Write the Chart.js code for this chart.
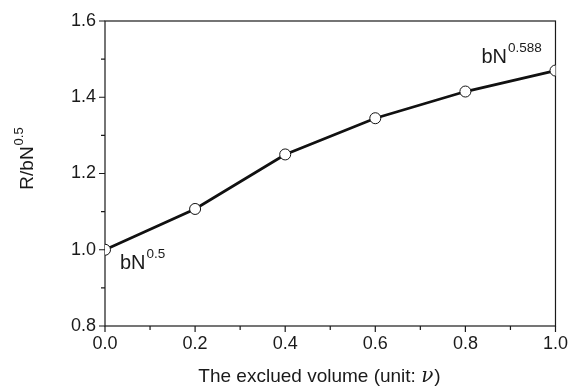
<!DOCTYPE html>
<html>
<head>
<meta charset="utf-8">
<script src="https://cdn.jsdelivr.net/npm/chart.js@4/dist/chart.umd.min.js"></script>
<style>
  html, body { margin: 0; padding: 0; background: #fff; }
  #wrap { width: 575px; height: 388px; position: relative; }
</style>
</head>
<body>
<div id="wrap"><canvas id="myChart"></canvas></div>
<script>
// data
const volumes = [0.0, 0.2, 0.4, 0.6, 0.8, 1.0];
const ratios = [1.0, 1.107, 1.25, 1.345, 1.415, 1.47];
const xTicks = [0.0, 0.2, 0.4, 0.6, 0.8, 1.0];
const yTicks = [0.8, 1.0, 1.2, 1.4, 1.6];
const xMinor = [0.1, 0.3, 0.5, 0.7, 0.9];
const yMinor = [0.9, 1.1, 1.3, 1.5];

const FONT = '"Liberation Sans", Arial, sans-serif';
const INK = '#1a1a1a';

// text with a superscript part
function supText(ctx, base, sup, x, y, size, supSize, align) {
  ctx.font = size + 'px ' + FONT;
  const wb = ctx.measureText(base).width;
  ctx.font = supSize + 'px ' + FONT;
  const ws = ctx.measureText(sup).width;
  let left = x;
  if (align === 'center') left = x - (wb + ws) / 2;
  ctx.textAlign = 'left';
  ctx.textBaseline = 'alphabetic';
  ctx.font = size + 'px ' + FONT;
  ctx.fillText(base, left, y);
  ctx.font = supSize + 'px ' + FONT;
  ctx.fillText(sup, left + wb + 1, y - size * 0.52);
}

const decor = {
  id: 'decor',
  beforeDatasetsDraw(chart) {
    const ctx = chart.ctx;
    const xs = chart.scales.x, ys = chart.scales.y;
    const a = chart.chartArea;
    ctx.save();
    ctx.strokeStyle = INK;
    ctx.lineWidth = 1.2;
    // frame
    ctx.strokeRect(a.left, a.top, a.right - a.left, a.bottom - a.top);
    // major ticks
    ctx.beginPath();
    xTicks.forEach(v => { const p = xs.getPixelForValue(v); ctx.moveTo(p, a.bottom); ctx.lineTo(p, a.bottom + 6); });
    yTicks.forEach(v => { const p = ys.getPixelForValue(v); ctx.moveTo(a.left, p); ctx.lineTo(a.left - 6, p); });
    // minor ticks
    xMinor.forEach(v => { const p = xs.getPixelForValue(v); ctx.moveTo(p, a.bottom); ctx.lineTo(p, a.bottom + 4); });
    yMinor.forEach(v => { const p = ys.getPixelForValue(v); ctx.moveTo(a.left, p); ctx.lineTo(a.left - 4, p); });
    ctx.stroke();
    ctx.restore();
  },
  afterDraw(chart) {
    const ctx = chart.ctx;
    const xs = chart.scales.x, ys = chart.scales.y;
    ctx.save();
    ctx.fillStyle = INK;

    // annotations
    supText(ctx, 'bN', '0.5', xs.getPixelForValue(0) + 15, ys.getPixelForValue(1.0) + 19, 20, 13.5, 'left');
    supText(ctx, 'bN', '0.588', xs.getPixelForValue(1.0) - 74, ys.getPixelForValue(1.47) - 8, 20, 13.5, 'left');

    // x title
    const t1 = 'The exclued volume (unit: ';
    ctx.font = 'italic 20px "DejaVu Serif", serif';
    const wn = ctx.measureText('\u03bd').width;
    ctx.font = '19px ' + FONT;
    const w1 = ctx.measureText(t1).width, w2 = ctx.measureText(')').width;
    let left = 319 - (w1 + wn + w2) / 2;
    ctx.textAlign = 'left';
    ctx.textBaseline = 'alphabetic';
    ctx.fillText(t1, left, 382);
    ctx.font = 'italic 20px "DejaVu Serif", serif';
    ctx.fillText('\u03bd', left + w1, 382);
    ctx.font = '19px ' + FONT;
    ctx.fillText(')', left + w1 + wn + 1, 382);

    // y title
    ctx.translate(33, 159);
    ctx.rotate(-Math.PI / 2);
    supText(ctx, 'R/bN', '0.5', 0, 0, 19, 13, 'center');
    ctx.restore();
  }
};

new Chart(document.getElementById('myChart'), {
  type: 'line',
  data: {
    datasets: [{
      data: volumes.map((v, i) => ({ x: v, y: ratios[i] })),
      borderColor: '#111',
      borderWidth: 2.8,
      pointRadius: 5.5,
      pointBackgroundColor: '#fff',
      pointBorderColor: '#111',
      pointBorderWidth: 1,
      clip: 0,
      tension: 0
    }]
  },
  options: {
    responsive: true,
    maintainAspectRatio: false,
    animation: false,
    layout: { padding: { top: 21, right: 15, left: 0, bottom: 0 } },
    plugins: { legend: { display: false }, tooltip: { enabled: false } },
    scales: {
      x: {
        type: 'linear', min: 0, max: 1,
        afterFit(s) { s.height = 62; },
        afterBuildTicks(s) { s.ticks = xTicks.map(v => ({ value: v })); },
        grid: { display: false, drawTicks: false },
        border: { display: false },
        ticks: {
          padding: 7, color: INK,
          font: { family: FONT, size: 18 },
          callback: v => v.toFixed(1)
        }
      },
      y: {
        type: 'linear', min: 0.8, max: 1.6,
        afterFit(s) { s.width = 105; },
        afterBuildTicks(s) { s.ticks = yTicks.map(v => ({ value: v })); },
        grid: { display: false, drawTicks: false },
        border: { display: false },
        ticks: {
          padding: 9, color: INK,
          font: { family: FONT, size: 18 },
          callback: v => v.toFixed(1)
        }
      }
    }
  },
  plugins: [decor]
});
</script>
</body>
</html>
